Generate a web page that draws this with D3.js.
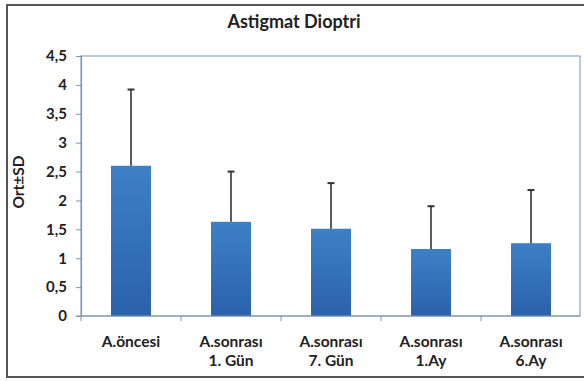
<!DOCTYPE html>
<html><head><meta charset="utf-8">
<script src="https://cdn.jsdelivr.net/npm/d3@7/dist/d3.min.js"></script>
<style>body{margin:0;background:#fff;}svg{display:block;}</style>
</head><body>
<script>
const categories = [["A.öncesi"], ["A.sonrası","1. Gün"], ["A.sonrası","7. Gün"], ["A.sonrası","1.Ay"], ["A.sonrası","6.Ay"]];
const means = [2.60, 1.63, 1.51, 1.16, 1.26];
const sds = [1.32, 0.87, 0.79, 0.74, 0.92];
const yTicks = [0, 0.5, 1, 1.5, 2, 2.5, 3, 3.5, 4, 4.5];
const title = "Astigmat Dioptri";
const yLabel = "Ort±SD";

(function(){
const W = 584, H = 381;
const svg = d3.select("body").append("svg").attr("width", W).attr("height", H);
const font = "Lato, 'Open Sans', sans-serif";

const defs = svg.append("defs");
const grad = defs.append("linearGradient").attr("id","bg").attr("x1",0).attr("y1",0).attr("x2",0).attr("y2",1);
grad.append("stop").attr("offset","0%").attr("stop-color","#3f7fc6");
grad.append("stop").attr("offset","100%").attr("stop-color","#2a62ab");

// outer frame
svg.append("rect").attr("x",7).attr("y",5).attr("width",W).attr("height",372)
  .attr("fill","#fff").attr("stroke","#555").attr("stroke-width",2);

const pl = 81, pr = 580, pt = 56, pb = 316;
const xb = d3.scaleBand().domain(d3.range(categories.length)).range([pl, pl + 500]);
const y = d3.scaleLinear().domain([0, 4.5]).range([pb, pt]);

// plot area border
svg.append("rect").attr("x",pl).attr("y",pt).attr("width",pr-pl).attr("height",pb-pt)
  .attr("fill","none").attr("stroke","#8ea6b8").attr("stroke-width",1.2);

// bars
svg.append("g").selectAll("rect").data(means).join("rect")
  .attr("x",(d,i)=>xb(i) + xb.bandwidth()/2 - 20)
  .attr("width",40)
  .attr("y",d=>y(d)).attr("height",d=>y(0)-y(d))
  .attr("fill","url(#bg)");

// error bars
const eb = svg.append("g").attr("stroke","#333").attr("stroke-width",1.6);
means.forEach((m,i)=>{
  const cx = xb(i) + xb.bandwidth()/2;
  eb.append("line").attr("x1",cx).attr("x2",cx).attr("y1",y(m)).attr("y2",y(m+sds[i]));
  eb.append("line").attr("x1",cx-3.5).attr("x2",cx+3.5).attr("y1",y(m+sds[i])).attr("y2",y(m+sds[i])).attr("stroke-width",2);
});

// y axis
const yAxis = d3.axisLeft(y).tickValues(yTicks).tickSize(5).tickPadding(9)
  .tickFormat(d=>String(d).replace(".",","));
const gy = svg.append("g").attr("transform",`translate(${pl},0)`).call(yAxis);
gy.select(".domain").attr("stroke","#7f97aa").attr("stroke-width",1.2);
gy.selectAll(".tick line").attr("stroke","#7f97aa");
gy.selectAll("text").attr("font-family",font).attr("font-weight","bold").attr("font-size",15).attr("fill","#222");

// x axis
const xAxisG = svg.append("g").attr("transform",`translate(0,${pb})`);
xAxisG.append("line").attr("x1",pl-5).attr("x2",pr).attr("y1",0).attr("y2",0).attr("stroke","#7f97aa").attr("stroke-width",1.2);
d3.range(categories.length).forEach(i=>{
  const bx = xb(i);
  xAxisG.append("line").attr("x1",bx).attr("x2",bx).attr("y1",0).attr("y2",5).attr("stroke","#7f97aa");
});
categories.forEach((lines,i)=>{
  const cx = xb(i) + xb.bandwidth()/2;
  const t = xAxisG.append("text").attr("text-anchor","middle").attr("font-family",font)
    .attr("font-weight","bold").attr("font-size",15.5).attr("fill","#222");
  lines.forEach((ln,j)=>{
    t.append("tspan").attr("x",cx).attr("y",30.5 + j*19).text(ln);
  });
});

// title
svg.append("text").attr("x",294).attr("y",28).attr("text-anchor","middle")
  .attr("font-family",font).attr("font-weight","bold").attr("font-size",18).attr("fill","#222").text(title);

// y label
svg.append("text").attr("transform","translate(24,182) rotate(-90)").attr("text-anchor","middle")
  .attr("font-family",font).attr("font-weight","bold").attr("font-size",15.5).attr("fill","#222").text(yLabel);
})();
</script>
</body></html>
